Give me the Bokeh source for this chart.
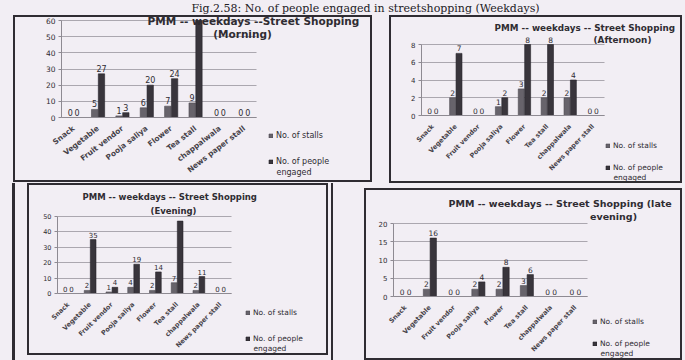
from bokeh.core.properties import value
from bokeh.embed import file_html
from bokeh.layouts import column, row
from bokeh.models import (ColumnDataSource, FixedTicker, Label, LabelSet,
                          Legend, LegendItem, Range1d, Spacer)
from bokeh.plotting import figure
from bokeh.resources import INLINE
from bokeh.transform import dodge

# ---------------------------------------------------------------- data
categories = ["Snack", "Vegetable", "Fruit vendor", "Pooja saliya", "Flower",
              "Tea stall", "chappalwala", "News paper stall"]

morning_stalls = [0, 5, 1, 6, 7, 9, 0, 0]
morning_people = [0, 27, 3, 20, 24, 60, 0, 0]

afternoon_stalls = [0, 2, 0, 1, 3, 2, 2, 0]
afternoon_people = [0, 7, 0, 2, 8, 8, 4, 0]

evening_stalls = [0, 2, 1, 4, 2, 7, 2, 0]
evening_people = [0, 35, 4, 19, 14, 47, 11, 0]

late_stalls = [0, 2, 0, 2, 2, 3, 0, 0]
late_people = [0, 16, 0, 4, 8, 6, 0, 0]

# categories whose "people" value label is not printed
morning_unlabelled = ["Tea stall"]
evening_unlabelled = ["Tea stall"]

series_names = ["No. of stalls", "No. of people", "engaged"]
page_title = "Fig.2.58: No. of people engaged in streetshopping (Weekdays)"

# ---------------------------------------------------------------- style
BG = "#f2eef4"
INK = "#2f2c32"
STALL_COLOR = "#67636b"
PEOPLE_COLOR = "#39353c"
GRID = "#aba7af"
AXIS = "#8e8a92"
SANS = "DejaVu Sans"


def make_panel(stalls, people, unlabelled, y_max, y_step, title1, title2,
               box, frame, fonts, legend_geo, angle):
    """One Excel-style clustered column chart.

    box   = (left, top, width, height) of the chart box on the page
    frame = (left, top, right, bottom) of its plot area on the page
    The Bokeh frame fills the whole box; the axes sit at fixed positions.
    """
    bx, by, bw, bh = box
    fx0, fy0, fx1, fy1 = frame
    n = len(categories)
    step = (fx1 - fx0) / n          # px per category
    k = (fy1 - fy0) / y_max         # px per unit
    x_start = -0.5 - (fx0 - bx) / step
    x_end = -0.5 + (bx + bw - fx0) / step
    y_start = -(by + bh - fy1) / k
    y_end = y_max + (fy0 - by) / k
    t_size, tick_size, cat_size, val_size, leg_size = fonts

    def sx(px):
        return px - bx

    def sy(py):
        return by + bh - py

    idx = list(range(n))
    src = ColumnDataSource(dict(
        x=idx,
        stalls=stalls,
        people=people,
        stalls_text=[str(v) for v in stalls],
        people_text=["" if c in unlabelled else str(v)
                     for c, v in zip(categories, people)],
    ))

    p = figure(width=bw, height=bh, x_range=Range1d(x_start, x_end),
               y_range=Range1d(y_start, y_end), toolbar_location=None,
               output_backend="svg", min_border=0)
    p.background_fill_color = BG
    p.border_fill_color = BG
    p.outline_line_color = INK
    p.outline_line_width = 3

    ticks = list(range(0, y_max + 1, y_step))
    p.xgrid.visible = False
    p.ygrid.ticker = FixedTicker(ticks=ticks)
    p.ygrid.cross_bounds = (-0.5, n - 0.5)
    p.ygrid.grid_line_color = GRID
    p.ygrid.grid_line_width = 1

    r_st = p.vbar(x=dodge("x", -0.14), top="stalls", width=0.26, source=src,
                  fill_color=STALL_COLOR, line_color="#4d4950",
                  line_width=0.6)
    r_pp = p.vbar(x=dodge("x", 0.14), top="people", width=0.26, source=src,
                  fill_color=PEOPLE_COLOR, line_color="#26232a",
                  line_width=0.6)

    for off, col in ((-0.14, "stalls"), (0.14, "people")):
        p.add_layout(LabelSet(
            x=dodge("x", off), y=col, text=col + "_text", source=src,
            y_offset=2, text_align="center", text_baseline="bottom",
            text_font=value(SANS), text_font_size="%gpx" % val_size,
            text_color=INK))

    # value axis on the left edge of the plot area
    p.yaxis.fixed_location = -0.5
    p.yaxis.bounds = (0, y_max)
    p.yaxis.ticker = FixedTicker(ticks=ticks)
    p.yaxis.axis_line_color = AXIS
    p.yaxis.major_tick_line_color = AXIS
    p.yaxis.major_tick_in = 0
    p.yaxis.major_tick_out = 3
    p.yaxis.minor_tick_line_color = None
    p.yaxis.major_label_standoff = 3
    p.yaxis.major_label_text_font = SANS
    p.yaxis.major_label_text_font_size = "%gpx" % tick_size
    p.yaxis.major_label_text_color = INK

    # category axis along the zero line
    p.xaxis.fixed_location = 0
    p.xaxis.bounds = (-0.5, n - 0.5)
    p.xaxis.ticker = FixedTicker(ticks=idx)
    p.xaxis.major_label_overrides = {i: c for i, c in zip(idx, categories)}
    p.xaxis.axis_line_color = AXIS
    p.xaxis.major_tick_line_color = None
    p.xaxis.minor_tick_line_color = None
    p.xaxis.major_label_orientation = angle
    p.xaxis.major_label_standoff = 4
    p.xaxis.major_label_text_font = SANS
    p.xaxis.major_label_text_font_style = "bold"
    p.xaxis.major_label_text_font_size = "%gpx" % cat_size
    p.xaxis.major_label_text_color = "#47434a"

    # two-line chart title
    (t1, t1x, t1y), (t2, t2x, t2y) = title1, title2
    for text, x, y, align in ((t1, t1x, t1y, "left"),
                              (t2, t2x, t2y, "center")):
        p.add_layout(Label(x=sx(x), y=sy(y), x_units="screen",
                           y_units="screen", text=text, text_align=align,
                           text_baseline="middle", text_font=SANS,
                           text_font_style="bold",
                           text_font_size="%gpx" % t_size, text_color=INK))

    # legend below the right side of the plot area
    gx, y1, y2, y3 = legend_geo
    label_h = 10
    spacing = (y2 - y1) - label_h
    leg_top = y1 - label_h / 2
    leg_bottom = leg_top + 2 * label_h + spacing
    legend = Legend(
        items=[LegendItem(label=series_names[0], renderers=[r_st]),
               LegendItem(label=series_names[1], renderers=[r_pp])],
        location=(sx(gx), sy(leg_bottom)), orientation="vertical",
        padding=0, margin=0, spacing=spacing, label_height=label_h,
        glyph_height=5, glyph_width=5, label_standoff=3,
        border_line_color=None, background_fill_alpha=0,
        label_text_font=SANS, label_text_font_size="%gpx" % leg_size,
        label_text_color=INK)
    p.add_layout(legend)
    p.add_layout(Label(x=sx(gx + 8), y=sy(y3), x_units="screen",
                       y_units="screen", text=series_names[2],
                       text_baseline="middle", text_font=SANS,
                       text_font_size="%gpx" % leg_size, text_color=INK))
    return p


fig_morning = make_panel(
    morning_stalls, morning_people, morning_unlabelled, 60, 10,
    ("PMM -- weekdays --Street Shopping", 147, 20), ("(Morning)", 242, 33),
    box=(13, 15, 359, 167), frame=(61, 20, 256, 117),
    fonts=(10.5, 7.5, 7.5, 8, 8), legend_geo=(268, 135, 161, 171.5),
    angle=0.66)

fig_afternoon = make_panel(
    afternoon_stalls, afternoon_people, [], 8, 2,
    ("PMM -- weekdays -- Street Shopping", 494, 27),
    ("(Afternoon)", 622, 39),
    box=(389, 15, 293, 168), frame=(421, 44, 604, 115),
    fonts=(8.8, 7, 6.5, 7.5, 7.5), legend_geo=(605, 145, 167, 176.5),
    angle=0.8)

fig_evening = make_panel(
    evening_stalls, evening_people, evening_unlabelled, 50, 10,
    ("PMM -- weekdays -- Street Shopping", 82, 196), ("(Evening)", 173, 210),
    box=(27, 183, 301, 172), frame=(57, 216, 231, 293),
    fonts=(8.5, 6.5, 6.5, 7, 7.5), legend_geo=(245, 312, 338, 347.5),
    angle=0.78)

fig_late = make_panel(
    late_stalls, late_people, [], 20, 5,
    ("PMM -- weekdays -- Street Shopping (late", 448, 203),
    ("evening)", 613, 216),
    box=(364, 188, 318, 172), frame=(393, 223, 587, 296),
    fonts=(9.5, 7, 6.5, 7.5, 7.5), legend_geo=(592, 321, 343, 352.5),
    angle=0.8)

# caption strip at the top of the page
strip = figure(width=685, height=15, x_range=(0, 685), y_range=(0, 15),
               toolbar_location=None, output_backend="svg", min_border=0,
               x_axis_location=None, y_axis_location=None)
strip.grid.visible = False
strip.outline_line_color = None
strip.background_fill_color = BG
strip.border_fill_color = BG
strip.add_layout(Label(x=365, y=7.5, x_units="screen", y_units="screen",
                       text=page_title, text_align="center",
                       text_baseline="middle",
                       text_font="DejaVu Serif", text_font_size="11px",
                       text_color="#222024"))


def rule(offset, width=2):
    """A vertical page rule drawn as the background of a spacer."""
    return {"background": "linear-gradient(to right, transparent %dpx, %s %dpx, "
                          "%s %dpx, transparent %dpx)"
                          % (offset, INK, offset, INK, offset + width,
                             offset + width)}


layout = column(
    strip,
    row(Spacer(width=13, height=168), fig_morning,
        Spacer(width=17, height=168), fig_afternoon),
    row(Spacer(width=27, height=177, styles=rule(12, 3)), fig_evening,
        Spacer(width=36, height=177, styles=rule(3, 2)),
        column(Spacer(width=318, height=5), fig_late)),
    styles={"background-color": BG},
)

with open("out.html", "w") as fh:
    fh.write(file_html(layout, INLINE, title="Street shopping - weekdays"))
